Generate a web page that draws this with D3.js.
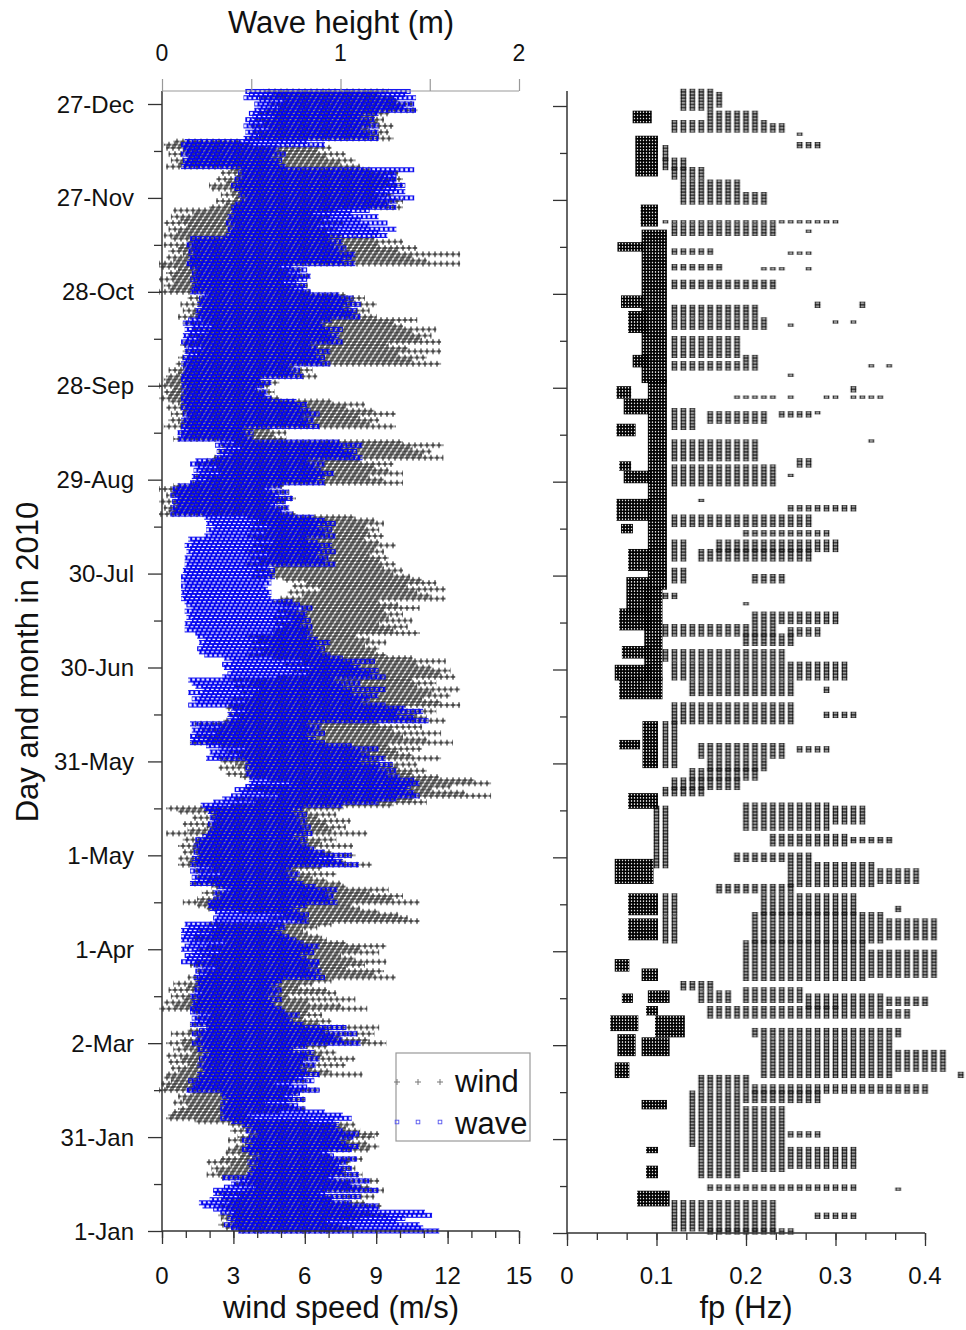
<!DOCTYPE html>
<html><head><meta charset="utf-8">
<script src="https://cdn.jsdelivr.net/npm/d3@7"></script>
<style>
body{margin:0;background:#fff}
text{font-family:"Liberation Sans",Arial,sans-serif;fill:#111}
</style></head>
<body><svg id="c" width="966" height="1330"></svg>
<script>
// ---------------- DATA ----------------
const dateTickDays = [0,30,60,90,120,150,180,210,240,270,300,330,360];
const dateLabels = ["1-Jan","31-Jan","2-Mar","1-Apr","1-May","31-May","30-Jun","30-Jul","29-Aug","28-Sep","28-Oct","27-Nov","27-Dec"];
const windTicks = [0,3,6,9,12,15];
const waveTicks = [0,1,2];
const fpTicks = [0,0.1,0.2,0.3,0.4];
const fpTickLabels = ["0","0.1","0.2","0.3","0.4"];

// daily spread of hourly wind speed (m/s), day 0 = 1 Jan 2010
const windLo = [
3.4,2.8,2.5,3.0,2.6,2.5,3.2,2.8,2.5,3.0, 2.6,3.4,2.5,3.6,4.0,3.2,3.8,2.6,2.0,2.4,
2.2,3.0,2.0,2.6,3.4,2.8,2.9,3.2,3.6,2.9, 3.3,3.8,3.0,3.5,2.9,1.5,0.3,0.4,0.6,0.8,
1.2,0.6,1.0,0.8,1.4,0.0,0.3,0.1,0.5,0.2, 0.3,0.8,0.5,1.2,0.4,0.9,0.3,1.4,0.6,1.0,
0.3,0.9,1.6,0.5,1.2,2.0,1.3,2.0,1.5,2.2, 1.4,0.0,0.6,0.2,1.0,0.5,1.8,0.4,1.2,0.6,
1.5,1.2,2.0,1.6,2.4,1.3,1.5,2.2,1.8,2.6, 1.6,2.0,2.8,1.5,1.5,2.2,1.6,2.4,2.0,5.8,
4.6,5.2,3.4,2.0,1.6,1.0,1.6,2.4,1.8,3.0, 2.2,1.3,2.0,1.6,2.6,1.5,2.2,0.8,1.2,0.8,
1.6,1.0,1.4,0.8,1.5,1.0,2.0,0.3,1.2,2.0, 1.0,2.4,1.4,2.2,0.8,0.3,3.0,4.0,3.2,5.0,
4.4,3.6,4.0,5.5,4.6,3.4,2.8,3.6,2.5,3.2, 2.6,2.5,3.4,2.8,3.6,2.6,1.3,2.0,1.6,2.4,
1.8,2.6,1.5,2.7,3.4,2.9,3.6,2.8,2.9,3.6, 3.0,4.0,3.4,4.2,3.2,3.8,3.0,5.0,6.2,5.6,
6.4,5.2,6.0,4.8,3.7,4.4,3.8,4.6,3.9,4.2, 3.7,4.8,4.8,5.2,4.9,5.6,4.8,5.4,5.0,6.0,
5.2,4.8,5.1,6.0,5.4,6.8,5.6,6.2,5.2,3.9, 4.6,4.0,4.8,3.6,4.2,3.8,4.6,3.6,4.4,3.9,
4.8,4.0,3.7,4.4,3.8,4.6,3.9,4.2,3.7,0.0, 0.4,0.2,0.6,0.0,0.8,0.3,0.5,0.0,0.6,1.4,
2.0,1.5,2.6,1.8,2.4,1.5,2.0,2.3,3.0,2.5, 3.4,2.6,3.2,0.6,1.0,0.8,1.2,0.2,0.8,0.4,
1.2,0.5,1.0,0.3,0.8,0.4,0.0,0.4,0.2,0.6, 0.0,0.3,0.2,0.3,0.8,0.4,1.0,0.7,1.2,0.8,
1.6,1.0,1.8,0.9,1.0,1.6,1.2,2.0,1.4,2.2, 1.0,1.8,0.8,1.4,1.0,1.8,0.9,1.6,1.2,2.0,
0.0,0.4,0.2,0.6,0.0,0.5,0.3,0.8,0.0,0.0, 0.6,0.3,1.0,0.4,0.8,0.2,1.2,0.5,0.2,0.8,
0.4,1.2,0.2,0.9,0.5,1.4,0.6,2.1,2.8,2.4, 3.2,2.6,3.0,2.2,2.1,2.8,2.4,3.2,2.6,3.0,
0.3,0.8,0.5,1.2,0.4,1.0,0.3,0.2,0.6,3.7, 4.2,3.9,4.6,3.8,4.4,4.0,4.8,4.2,4.5,5.0,
4.6,5.2,4.2,4.8,4.4];
const windHi = [
7.4,8.0,7.4,6.8,8.2,9.3,8.6,8.0,9.1,8.4, 7.0,8.8,6.5,9.2,8.6,7.8,9.0,6.8,8.3,7.6,
8.0,7.2,7.8,8.3,7.0,6.6,8.6,9.0,8.5,7.8, 8.8,9.0,8.2,7.6,8.0,6.0,3.7,3.4,4.8,5.9,
5.4,4.2,5.9,5.0,5.6,6.5,5.2,4.6,6.0,5.5, 8.3,7.0,6.2,7.6,5.8,8.0,6.6,7.2,5.4,6.8,
9.3,8.6,7.4,8.8,6.9,9.0,6.5,7.0,5.8,6.6, 6.0,8.5,7.4,6.0,8.0,5.2,7.2,6.8,5.6,6.2,
7.0,9.7,8.8,9.2,7.6,8.4,9.3,8.0,7.4,9.0, 8.2,9.3,7.6,6.8,6.6,6.0,5.8,6.4,7.0,10.7,
10.2,9.8,9.0,8.2,7.8,10.7,9.6,10.0,8.6,9.4, 7.6,7.4,6.8,6.2,7.2,5.6,6.6,8.7,7.6,6.4,
8.0,7.0,6.2,7.9,6.6,7.2,6.0,8.5,7.0,7.6, 6.8,7.8,6.4,7.2,6.0,7.5,9.6,11.0,10.4,13.7,
12.6,11.2,12.0,13.7,13.0,11.5,10.4,11.0,9.8,10.6, 9.0,11.6,10.4,9.8,10.8,9.4,12.1,11.0,10.0,11.6,
9.6,10.8,9.0,11.8,11.0,10.6,11.4,10.0,12.4,11.6, 10.8,12.0,11.2,12.4,10.6,11.4,10.4,12.2,11.6,12.0,
11.2,10.6,11.8,10.4,9.3,8.8,9.0,8.4,9.3,8.6, 8.0,10.7,9.6,10.2,9.0,10.4,9.4,10.0,9.2,10.7,
9.8,9.0,11.8,11.2,10.6,11.8,10.2,11.4,10.8,10.3, 9.6,10.0,9.2,9.7,9.0,9.4,8.6,9.2,8.8,9.7,
9.0,8.4,9.2,8.6,9.0,8.4,9.2,8.8,8.0,5.5, 4.8,5.2,4.4,5.0,5.5,4.6,5.2,4.2,5.0,10.0,
9.2,8.6,10.0,9.4,8.8,9.6,8.2,11.7,10.8,11.2, 10.4,11.7,10.0,5.1,4.6,5.1,4.4,9.7,8.6,9.0,
8.2,9.7,8.8,7.6,8.4,7.0,4.8,4.2,4.6,3.8, 4.4,4.8,4.0,6.4,5.8,6.2,5.4,11.6,10.4,11.0,
9.8,11.6,10.2,9.4,11.6,10.8,11.2,10.4,11.4,10.0, 9.6,10.6,8.9,8.2,8.6,7.8,8.9,8.0,8.4,7.6,
6.1,5.4,6.0,5.0,5.6,6.1,5.2,5.8,4.8,12.4, 11.0,10.4,12.4,9.8,10.6,9.0,10.0,8.8,7.5,6.8,
7.2,6.4,7.5,6.6,7.0,6.2,7.2,10.0,9.4,10.0, 9.0,9.6,8.8,9.2,10.0,9.4,10.0,9.2,9.8,8.6,
8.2,7.4,8.0,6.8,7.6,6.4,7.0,3.7,3.2,9.6, 9.0,9.4,8.6,9.6,9.0,9.2,8.8,9.4,10.6,10.0,
10.4,9.8,9.6,9.0,9.4];
// daily spread of hourly wave height (m)
const waveLo = [
.44,.40,.36,.42,.38,.40,.34,.30,.24,.22, .28,.35,.30,.30,.36,.40,.45,.35,.49,.52,
.50,.55,.49,.52,.56,.50,.46,.48,.52,.46, .50,.55,.48,.52,.46,.40,.34,.36,.34,.34,
.36,.34,.38,.35,.34,.15,.18,.20,.16,.22, .21,.25,.24,.21,.26,.22,.24,.28,.21,.25,
.18,.20,.24,.18,.22,.26,.17,.20,.18,.22, .17,.17,.19,.18,.21,.17,.20,.19,.22,.20,
.22,.19,.22,.20,.24,.19,.12,.15,.14,.18, .12,.14,.17,.12,.12,.14,.12,.16,.14,.31,
.30,.33,.31,.28,.27,.27,.30,.34,.30,.36, .32,.17,.20,.18,.22,.17,.21,.17,.20,.18,
.22,.19,.22,.19,.22,.20,.24,.27,.28,.30, .27,.30,.28,.32,.27,.25,.23,.30,.35,.40,
.45,.42,.48,.50,.52,.50,.48,.52,.48,.50, .48,.26,.30,.28,.33,.26,.17,.18,.17,.20,
.18,.22,.17,.38,.40,.38,.42,.40,.16,.20, .18,.22,.16,.24,.20,.18,.16,.35,.38,.40,
.36,.35,.40,.36,.25,.22,.21,.24,.22,.25, .21,.20,.14,.16,.14,.18,.15,.17,.14,.18,
.15,.14,.12,.13,.12,.14,.12,.14,.12,.12, .14,.13,.15,.14,.16,.14,.18,.15,.17,.14,
.18,.16,.25,.28,.26,.30,.26,.28,.25,.06, .08,.06,.10,.07,.09,.06,.08,.07,.10,.17,
.20,.18,.22,.19,.21,.17,.20,.31,.34,.32, .36,.31,.34,.10,.12,.10,.12,.12,.14,.12,
.15,.13,.15,.12,.14,.12,.12,.14,.12,.15, .12,.14,.12,.12,.14,.13,.15,.12,.14,.13,
.16,.14,.16,.14,.12,.15,.13,.16,.14,.18, .13,.16,.20,.22,.20,.24,.21,.23,.22,.25,
.17,.19,.18,.21,.17,.20,.18,.21,.17,.15, .17,.16,.19,.16,.18,.15,.19,.17,.37,.40,
.38,.42,.37,.40,.38,.42,.40,.40,.42,.45, .48,.44,.46,.42,.40,.44,.42,.46,.44,.46,
.12,.14,.13,.16,.12,.15,.13,.12,.14,.47, .50,.48,.52,.47,.50,.48,.52,.50,.53,.55,
.53,.56,.47,.50,.48];
const waveHi = [
1.54,1.45,1.43,1.30,1.35,1.50,1.46,1.20,1.20,1.05, .95,1.10,.90,1.20,1.10,1.05,1.15,.95,1.09,1.00,
1.05,.98,1.02,1.08,.95,.92,1.05,1.09,1.02,.98, 1.06,1.09,1.00,.96,.98,.95,1.05,1.00,.90,.79,
.75,.70,.79,.72,.76,.87,.80,.72,.84,.78, .87,.80,.76,.85,.78,.87,.80,.84,.72,.80,
1.10,1.00,.95,1.08,.90,1.02,.78,.72,.70,.76, .68,.66,.62,.60,.66,.58,.64,.66,.60,.64,
.66,.90,.85,.88,.80,.86,.87,.80,.76,.84, .82,.87,.78,.74,.70,.66,.62,.68,.66,.81,
.78,.81,.76,.72,.80,.97,.92,.95,.90,.97, .85,.78,.74,.70,.76,.68,.72,1.09,1.00,.95,
1.05,.90,.84,.81,.76,.80,.72,.83,.78,.82, .76,.80,.74,.80,.72,.78,1.00,1.20,1.30,1.43,
1.40,1.35,1.38,1.43,1.40,1.32,1.25,1.30,1.20,1.28, 1.10,1.24,1.15,1.10,1.20,1.05,.90,.85,.80,.90,
.84,.88,.80,1.48,1.40,1.30,1.45,1.35,1.24,1.10, 1.15,1.20,1.05,1.24,1.00,1.10,.95,1.24,1.15,1.20,
1.10,1.05,1.18,1.00,.93,.88,.90,.85,.93,.86, .80,.83,.80,.83,.76,.82,.78,.80,.74,.83,
.76,.72,.60,.58,.60,.58,.56,.60,.58,.62, .60,.62,.58,.96,.90,.92,.85,.96,.88,.94,
.86,.80,.96,.90,.94,.86,.96,.90,.84,.72, .66,.70,.62,.68,.72,.64,.70,.60,.66,.90,
.85,.90,.95,.88,.84,.90,.80,1.11,1.05,1.08, 1.00,1.11,.98,.50,.46,.50,.44,.87,.80,.84,
.78,.87,.82,.76,.80,.74,.60,.56,.58,.52, .56,.60,.54,.78,.72,.76,.70,.93,.88,.90,
.85,.93,.86,.82,1.00,.95,.98,.92,1.00,.90, .88,.94,1.10,1.05,1.08,1.00,1.10,1.02,1.06,.98,
.82,.78,.80,.74,.80,.82,.76,.80,.72,1.07, 1.00,1.05,1.07,.98,1.02,.95,1.00,.92,1.25,1.20,
1.30,1.15,1.25,1.10,1.20,1.05,1.15,1.30,1.25,1.30, 1.40,1.25,1.35,1.30,1.35,1.30,1.30,1.30,1.30,1.40,
.68,.64,.66,.60,.68,.62,.64,.90,.80,1.20, 1.15,1.20,1.10,1.20,1.15,1.18,1.10,1.20,1.41,1.35,
1.40,1.30,1.41,1.35,1.38];

// peak frequency occurrences: [first day, last day, lowest fp, highest fp] (0.01 Hz bins)
const fpSea = [
[359,365,0.13,0.16],[360,364,0.17,0.17],[356,358,0.16,0.21],
[352,355,0.12,0.22],[352,354,0.23,0.24],[351,351,0.26,0.26],[347,348,0.26,0.28],
[343,347,0.11,0.11],[340,343,0.11,0.13],[337,340,0.12,0.15],[329,336,0.13,0.19],[329,332,0.20,0.22],
[323,323,0.11,0.30],[319,322,0.12,0.23],[320,320,0.27,0.27],
[313,314,0.12,0.16],[313,313,0.25,0.27],
[308,309,0.12,0.17],[308,308,0.22,0.24],[308,308,0.27,0.27],
[302,304,0.12,0.23],[296,297,0.28,0.28],[296,297,0.33,0.33],[293,296,0.12,0.21],
[289,292,0.12,0.22],[290,290,0.25,0.25],[291,291,0.30,0.30],[291,291,0.32,0.32],
[280,286,0.12,0.19],[279,280,0.20,0.21],[276,278,0.12,0.21],[277,277,0.34,0.34],[277,277,0.36,0.36],
[274,274,0.25,0.25],
[267,267,0.19,0.23],[267,267,0.25,0.25],[267,267,0.29,0.30],[267,267,0.32,0.35],[269,270,0.32,0.32],
[257,263,0.12,0.14],[259,262,0.16,0.22],[261,262,0.24,0.27],[262,262,0.28,0.28],
[253,253,0.34,0.34],[247,253,0.12,0.21],[245,247,0.26,0.27],
[239,245,0.12,0.23],[242,242,0.25,0.25],[234,234,0.15,0.15],[231,232,0.25,0.32],
[226,229,0.12,0.27],[223,224,0.20,0.29],
[218,221,0.17,0.30],[215,218,0.15,0.27],[215,221,0.12,0.13],
[208,212,0.12,0.13],[208,210,0.21,0.24],[203,204,0.11,0.12],[201,201,0.20,0.20],
[195,198,0.21,0.30],[191,194,0.11,0.23],[191,193,0.25,0.28],[188,191,0.20,0.25],
[183,186,0.11,0.24],[177,182,0.12,0.31],
[172,176,0.14,0.25],[173,174,0.29,0.29],[163,169,0.12,0.25],[165,166,0.29,0.32],
[149,163,0.11,0.12],[152,156,0.15,0.24],[154,155,0.26,0.29],
[148,151,0.16,0.22],[145,148,0.14,0.21],[142,145,0.12,0.19],[140,142,0.11,0.15],
[129,137,0.20,0.29],[131,136,0.30,0.33],[117,136,0.10,0.11],
[124,127,0.23,0.31],[125,126,0.32,0.36],[119,121,0.19,0.27],
[111,118,0.25,0.34],[112,116,0.35,0.39],[109,111,0.17,0.25],
[102,108,0.22,0.32],[103,104,0.37,0.37],[93,102,0.21,0.35],[94,100,0.36,0.41],
[102,108,0.11,0.12],[93,101,0.11,0.12],
[81,93,0.20,0.33],[82,90,0.34,0.41],
[78,80,0.13,0.16],[74,77,0.15,0.18],[74,78,0.20,0.26],[72,76,0.27,0.35],[73,75,0.36,0.40],
[69,72,0.16,0.30],[69,71,0.31,0.38],[63,65,0.21,0.37],
[50,62,0.22,0.36],[52,58,0.37,0.42],[50,51,0.44,0.44],
[46,50,0.15,0.20],[45,47,0.21,0.40],[42,45,0.14,0.28],
[18,41,0.15,0.19],[28,41,0.14,0.14],[20,40,0.20,0.24],[31,32,0.25,0.28],[21,27,0.25,0.32],
[14,15,0.16,0.32],[14,14,0.37,0.37],[1,10,0.12,0.23],[5,6,0.28,0.32],[0,1,0.16,0.25]
];
// swell peaks (finer resolution below 0.1 Hz): [first day, last day, lowest fp, highest fp]
const fpSwell = [
[355,358,0.075,0.093],[338,350,0.078,0.100],[322,328,0.084,0.100],[272,320,0.085,0.110],
[314,316,0.058,0.085],[296,299,0.062,0.085],[288,294,0.070,0.088],[277,280,0.075,0.090],
[206,272,0.092,0.110],
[267,270,0.057,0.070],[262,266,0.065,0.090],[255,258,0.057,0.075],[244,246,0.060,0.070],
[240,243,0.065,0.093],[228,234,0.057,0.093],[224,226,0.062,0.072],[212,218,0.070,0.093],
[198,209,0.068,0.093],[193,199,0.060,0.093],[184,187,0.063,0.093],[177,181,0.055,0.093],
[177,206,0.088,0.105],[171,177,0.060,0.105],[149,163,0.086,0.100],[155,157,0.060,0.080],
[136,140,0.070,0.100],[112,119,0.055,0.095],[102,108,0.070,0.100],[94,100,0.070,0.100],
[84,87,0.055,0.068],[81,84,0.085,0.100],
[74,76,0.063,0.072],[74,77,0.092,0.113],[70,72,0.090,0.100],
[65,69,0.050,0.078],[63,69,0.100,0.130],[57,63,0.058,0.075],[57,62,0.085,0.113],
[50,54,0.055,0.068],[40,42,0.085,0.110],[26,27,0.090,0.100],[18,21,0.090,0.100],[9,13,0.080,0.113]
];

// ---------------- SCALES ----------------
const svg = d3.select("#c");
const xW = d3.scaleLinear().domain([0,15]).range([162,519]);
const xH = d3.scaleLinear().domain([0,2]).range([162,519]);
const yL = d3.scaleLinear().domain([0,360]).range([1231,104]);
const xF = d3.scaleLinear().domain([0,0.4]).range([567,925]);
const yR = d3.scaleLinear().domain([0,360]).range([1233,106]);

const defs = svg.append("defs");
// textures
const plus = defs.append("pattern").attr("id","plusPat").attr("patternUnits","userSpaceOnUse")
  .attr("x",0).attr("y",-4).attr("width",6).attr("height",8);
plus.append("path").attr("d","M0.4,4H5.6M3,1.2V6.8").attr("stroke","#000").attr("stroke-width",1.3).attr("fill","none");

const sq = defs.append("pattern").attr("id","wavePat").attr("patternUnits","userSpaceOnUse")
  .attr("x",0).attr("y",-2.5).attr("width",4.7).attr("height",5);
sq.append("rect").attr("x",0.55).attr("y",0.6).attr("width",3.6).attr("height",3.8)
  .attr("fill","none").attr("stroke","#0000f0").attr("stroke-width",1.05);

const bw = xF(0.01) - xF(0);
const rowH = yR(0) - yR(1);
const fpPat = defs.append("pattern").attr("id","fpPat").attr("patternUnits","userSpaceOnUse")
  .attr("x", xF(0.1) - bw/2).attr("y", yR(0) - rowH/2).attr("width", bw).attr("height", rowH);
[-1,0,1].forEach(k => fpPat.append("rect").attr("x", bw/2 - 2.2).attr("y", rowH/2 - 2.2 + k*rowH)
  .attr("width",4.4).attr("height",4.4).attr("fill","none").attr("stroke","#111").attr("stroke-width",0.95));

const swPat = defs.append("pattern").attr("id","swPat").attr("patternUnits","userSpaceOnUse")
  .attr("x", xF(0)).attr("y", yR(0) - rowH/2).attr("width", 3).attr("height", rowH);
swPat.append("rect").attr("x",0.4).attr("y",0.4).attr("width",2.2).attr("height",rowH-0.8)
  .attr("fill","none").attr("stroke","#000").attr("stroke-width",0.95);

// ---------------- LEFT PANEL MARKS ----------------
const days = d3.range(windLo.length);
const stagger = d => (d % 3) * 2;
svg.append("g").selectAll("rect").data(days).join("rect")
  .attr("transform", d => `translate(${stagger(d)},${yL(d)})`)
  .attr("x", d => xW(windLo[d]) - 3 - stagger(d))
  .attr("width", d => xW(windHi[d]) - xW(windLo[d]) + 6)
  .attr("y", -4).attr("height", 8)
  .attr("fill","url(#plusPat)").attr("opacity",0.8);

svg.append("g").selectAll("rect").data(days).join("rect")
  .attr("transform", d => `translate(${stagger(d)*0.8},${yL(d)})`)
  .attr("x", d => xH(waveLo[d]) - 2.35 - stagger(d)*0.8)
  .attr("width", d => xH(waveHi[d]) - xH(waveLo[d]) + 4.7)
  .attr("y", -2.5).attr("height", 5)
  .attr("fill","url(#wavePat)");

// ---------------- RIGHT PANEL MARKS ----------------
svg.append("g").selectAll("rect").data(fpSea).join("rect")
  .attr("x", d => xF(d[2]) - bw/2)
  .attr("width", d => xF(d[3]) - xF(d[2]) + bw)
  .attr("y", d => yR(d[1]) - rowH/2)
  .attr("height", d => yR(d[0]) - yR(d[1]) + rowH)
  .attr("fill","url(#fpPat)");

svg.append("g").selectAll("rect").data(fpSwell).join("rect")
  .attr("x", d => xF(d[2]) - 1.5)
  .attr("width", d => xF(d[3]) - xF(d[2]) + 3)
  .attr("y", d => yR(d[1]) - rowH/2)
  .attr("height", d => yR(d[0]) - yR(d[1]) + rowH)
  .attr("fill","url(#swPat)");

// ---------------- AXES ----------------
const axCol = "#333";
function styleAxis(g){ g.select(".domain").remove(); g.selectAll("line").attr("stroke",axCol).attr("stroke-width",1.3); g.selectAll("text").remove(); }
const minorDays = dateTickDays.slice(0,-1).map(d => d + 15);

// left y
svg.append("g").attr("transform","translate(162,0)").call(d3.axisLeft(yL).tickValues(dateTickDays).tickSize(14)).call(styleAxis);
svg.append("g").attr("transform","translate(162,0)").call(d3.axisLeft(yL).tickValues(minorDays).tickSize(8)).call(styleAxis);
svg.append("line").attr("x1",162).attr("x2",162).attr("y1",91).attr("y2",1231).attr("stroke",axCol).attr("stroke-width",1.5);
svg.append("g").selectAll("text").data(dateTickDays).join("text")
  .attr("x",134).attr("y", d => yL(d) + 8.5).attr("text-anchor","end").attr("font-size",24)
  .text((d,i) => dateLabels[i]);

// left bottom
svg.append("g").attr("transform","translate(0,1231)").call(d3.axisBottom(xW).tickValues(windTicks).tickSize(13)).call(styleAxis);
svg.append("g").attr("transform","translate(0,1231)").call(d3.axisBottom(xW).tickValues(d3.range(0,16)).tickSize(7)).call(styleAxis);
svg.append("line").attr("x1",162).attr("x2",519).attr("y1",1231).attr("y2",1231).attr("stroke",axCol).attr("stroke-width",1.5);
svg.append("g").selectAll("text").data(windTicks).join("text")
  .attr("x", d => xW(d)).attr("y",1284).attr("text-anchor","middle").attr("font-size",24).text(d => d);
svg.append("text").attr("x",341).attr("y",1318).attr("text-anchor","middle").attr("font-size",31).text("wind speed (m/s)");

// top wave axis
const topG = svg.append("g").attr("transform","translate(0,91)")
  .call(d3.axisTop(xH).tickValues([0,0.5,1,1.5,2]).tickSize(12));
topG.select(".domain").remove();
topG.selectAll("line").attr("stroke","#999").attr("stroke-width",1.2);
topG.selectAll("text").remove();
svg.append("line").attr("x1",162).attr("x2",519).attr("y1",91).attr("y2",91).attr("stroke","#999").attr("stroke-width",1.2);
svg.append("g").selectAll("text").data(waveTicks).join("text")
  .attr("x", d => xH(d)).attr("y",61).attr("text-anchor","middle").attr("font-size",23).text(d => d);
svg.append("text").attr("x",341).attr("y",33).attr("text-anchor","middle").attr("font-size",31).text("Wave height (m)");

// y title
svg.append("text").attr("transform","translate(38,662) rotate(-90)").attr("text-anchor","middle")
  .attr("font-size",31).text("Day and month in 2010");

// right y
svg.append("g").attr("transform","translate(567,0)").call(d3.axisLeft(yR).tickValues(dateTickDays).tickSize(14)).call(styleAxis);
svg.append("g").attr("transform","translate(567,0)").call(d3.axisLeft(yR).tickValues(minorDays).tickSize(7)).call(styleAxis);
svg.append("line").attr("x1",567).attr("x2",567).attr("y1",91).attr("y2",1233).attr("stroke",axCol).attr("stroke-width",1.5);

// right bottom
svg.append("g").attr("transform","translate(0,1233)").call(d3.axisBottom(xF).tickValues(fpTicks).tickSize(13)).call(styleAxis);
svg.append("g").attr("transform","translate(0,1233)").call(d3.axisBottom(xF).tickValues(d3.range(0,13).map(i => i*0.4/12)).tickSize(7)).call(styleAxis);
svg.append("line").attr("x1",567).attr("x2",925).attr("y1",1233).attr("y2",1233).attr("stroke",axCol).attr("stroke-width",1.5);
svg.append("g").selectAll("text").data(fpTicks).join("text")
  .attr("x", d => xF(d)).attr("y",1284).attr("text-anchor","middle").attr("font-size",24).text((d,i) => fpTickLabels[i]);
svg.append("text").attr("x",746).attr("y",1318).attr("text-anchor","middle").attr("font-size",31).text("fp (Hz)");

// ---------------- LEGEND ----------------
const lg = svg.append("g");
lg.append("rect").attr("x",396).attr("y",1053).attr("width",134).attr("height",88)
  .attr("fill","#fff").attr("stroke","#999").attr("stroke-width",1.2);
[397,418,440].forEach(x => {
  lg.append("path").attr("d",`M${x-3},1082H${x+3}M${x},1079V1085`).attr("stroke","#777").attr("stroke-width",1);
  lg.append("rect").attr("x",x-1.8).attr("y",1120.2).attr("width",3.6).attr("height",3.6)
    .attr("fill","none").attr("stroke","#5555ee").attr("stroke-width",0.9);
});
lg.append("text").attr("x",455).attr("y",1092).attr("font-size",31).text("wind");
lg.append("text").attr("x",455).attr("y",1134).attr("font-size",31).text("wave");
</script></body></html>
